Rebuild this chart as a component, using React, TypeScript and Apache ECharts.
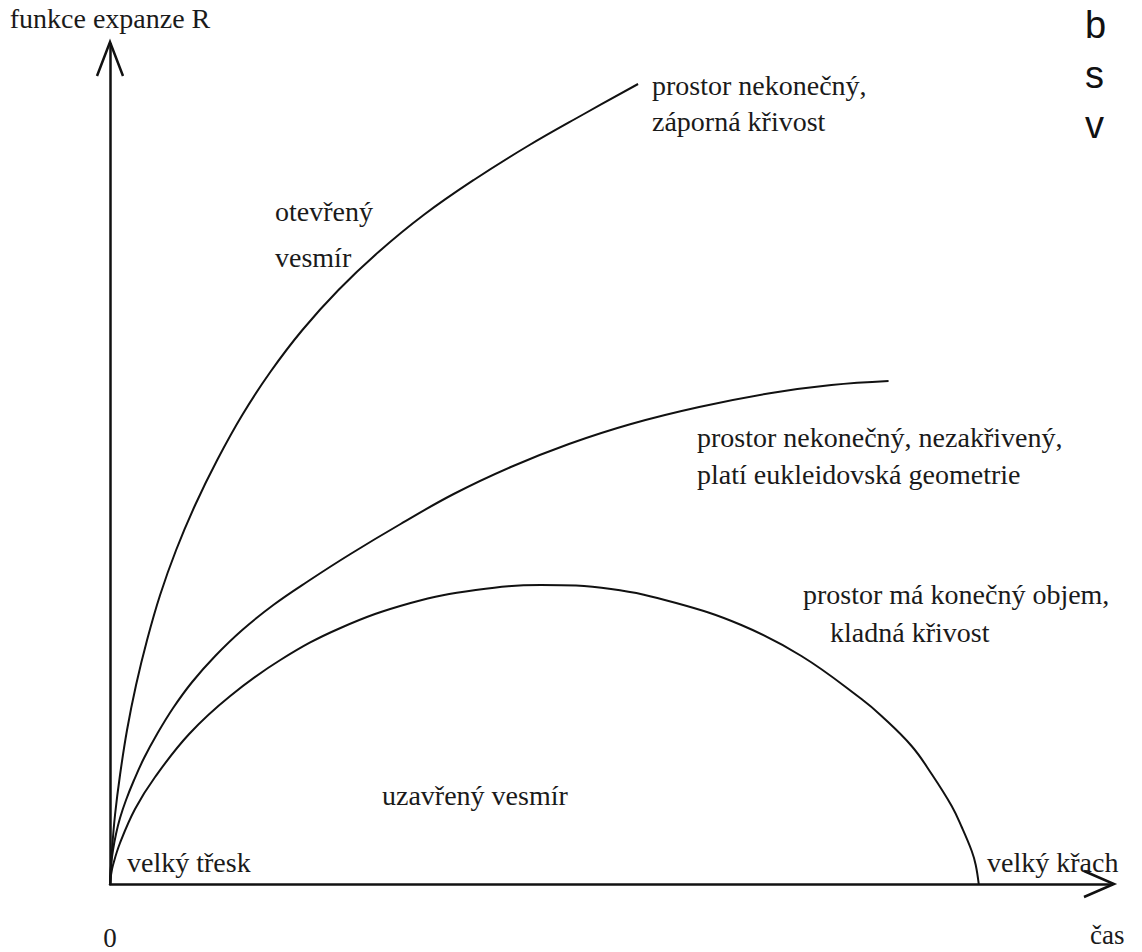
import React, { useEffect, useRef } from "react";
import * as echarts from "echarts";

// time (x) and expansion function R (y)
const openT = [0, 2, 5, 10, 17, 26, 37, 50, 66, 85, 107, 132, 160, 192, 228, 268, 313, 363, 417, 473, 527];
const openR = [0, 34, 69, 109, 154, 199, 244, 289, 334, 379, 424, 469, 512, 554, 594, 632, 669, 704, 738, 770, 800];

const flatT = [0, 1, 3, 6, 10, 16, 24, 34, 47, 63, 82, 105, 132, 163, 198, 240, 290, 343, 400, 458, 520, 588, 660, 720, 777];
const flatR = [0, 18, 34, 50, 66, 84, 104, 126, 150, 176, 202, 228, 254, 279, 303, 330, 360, 390, 417, 440, 460, 477, 491, 499, 503];

const closedT = [0, 1, 3, 10, 25, 45, 79, 120, 170, 230, 300, 365, 430, 500, 565, 630, 690, 750, 770, 800, 820, 840, 850, 860, 864, 867];
const closedR = [0, 9, 19, 41, 75, 107, 150, 188, 224, 256, 281, 294, 299, 295, 281, 259, 228, 185, 168, 138, 110, 78, 57, 33, 19, 0];

const xTickLabels = ["0"];
const yAxisTitle = "funkce expanze R";
const xAxisTitle = "čas";

const labels = [
  { text: "prostor nekonečný,", x: 652, y: 85 },
  { text: "záporná křivost", x: 652, y: 121 },
  { text: "otevřený", x: 275, y: 211 },
  { text: "vesmír", x: 275, y: 257 },
  { text: "prostor nekonečný, nezakřivený,", x: 697, y: 437 },
  { text: "platí eukleidovská geometrie", x: 697, y: 474 },
  { text: "prostor má konečný objem,", x: 803, y: 594 },
  { text: "kladná křivost", x: 830, y: 632 },
  { text: "uzavřený vesmír", x: 382, y: 795 },
  { text: "velký třesk", x: 127, y: 862 },
  { text: "velký křach", x: 987, y: 862 },
];

const sideLetters = ["b", "s", "v"];

function pairs(t: number[], r: number[]) {
  return t.map((v, i) => [v, r[i]]);
}

const SERIF = "Liberation Serif";

export default function App() {
  const ref = useRef<HTMLDivElement>(null);
  useEffect(() => {
    document.body.style.margin = "0";
    const chart = echarts.init(ref.current!, undefined, { renderer: "svg" });
    const lineStyle = { color: "#111", width: 2 };
    const graphic: any[] = [];
    labels.forEach((l) => {
      graphic.push({
        type: "text",
        x: l.x,
        y: l.y,
        style: {
          text: l.text,
          fill: "#1a1a1a",
          fontFamily: SERIF,
          fontSize: 28,
          verticalAlign: "middle",
        },
      });
    });
    sideLetters.forEach((s, i) => {
      graphic.push({
        type: "text",
        x: 1085,
        y: 25 + i * 50,
        style: {
          text: s,
          fill: "#111",
          fontFamily: "Liberation Sans",
          fontSize: 38,
          verticalAlign: "middle",
        },
      });
    });
    graphic.push({
      type: "text",
      x: 1090,
      y: 935,
      style: {
        text: xAxisTitle,
        fill: "#1a1a1a",
        fontFamily: SERIF,
        fontSize: 27,
        verticalAlign: "middle",
      },
    });
    graphic.push({
      type: "polyline",
      shape: { points: [[97, 76], [110, 42], [123, 76]] },
      style: { stroke: "#111", lineWidth: 2.5, fill: null },
    });
    graphic.push({
      type: "polyline",
      shape: { points: [[1084, 871], [1114, 884], [1084, 897]] },
      style: { stroke: "#111", lineWidth: 2.5, fill: null },
    });

    chart.setOption({
      animation: false,
      backgroundColor: "#fff",
      textStyle: { fontFamily: SERIF },
      grid: { left: 110, right: 30, top: 44, bottom: 68 },
      xAxis: {
        type: "value",
        min: 0,
        max: 1000,
        interval: 1000,
        axisLine: { show: true, onZero: true, lineStyle: { color: "#111", width: 2.5 } },
        axisTick: { show: false },
        splitLine: { show: false },
        axisLabel: {
          margin: 40,
          color: "#1a1a1a",
          fontFamily: SERIF,
          fontSize: 27,
          formatter: (v: number) => (v === 0 ? xTickLabels[0] : ""),
        },
      },
      yAxis: {
        type: "value",
        min: 0,
        max: 840,
        name: yAxisTitle,
        nameLocation: "end",
        nameGap: 12,
        nameTextStyle: {
          color: "#1a1a1a",
          fontFamily: SERIF,
          fontSize: 28,
          align: "center",
          verticalAlign: "bottom",
        },
        axisLine: { show: true, lineStyle: { color: "#111", width: 2.5 } },
        axisTick: { show: false },
        splitLine: { show: false },
        axisLabel: { show: false },
      },
      series: [
        { type: "line", data: pairs(openT, openR), smooth: 0.4, showSymbol: false, lineStyle },
        { type: "line", data: pairs(flatT, flatR), smooth: 0.4, showSymbol: false, lineStyle },
        { type: "line", data: pairs(closedT, closedR), smooth: 0.4, showSymbol: false, lineStyle },
      ],
      graphic,
    });
    return () => chart.dispose();
  }, []);
  return <div ref={ref} style={{ width: 1142, height: 952 }} />;
}
